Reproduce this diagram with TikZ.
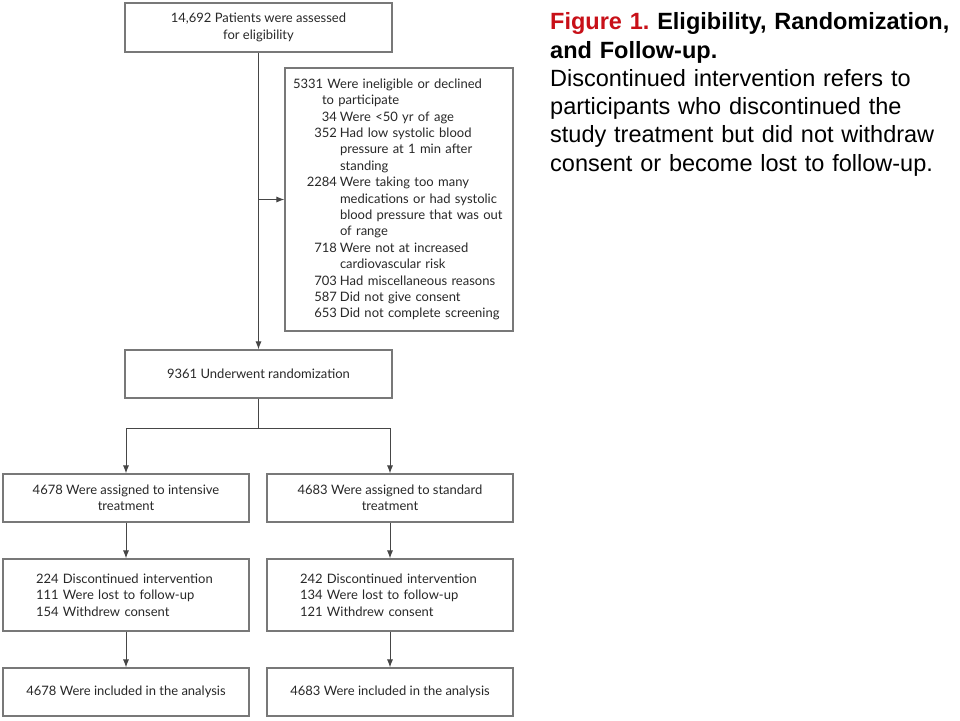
\documentclass[tikz,border=0pt]{standalone}
\usepackage{fontspec}
\setmainfont{Lato}
\newfontfamily\capfont{Liberation Sans}
\usetikzlibrary{arrows.meta}
\frenchspacing
\definecolor{boxgray}{RGB}{120,120,120}
\definecolor{linegray}{RGB}{70,70,70}
\definecolor{txtgray}{RGB}{40,40,40}
\definecolor{figred}{RGB}{200,16,24}
\newcommand{\boxfont}{\fontsize{13}{16.4}\selectfont}
\newcommand{\numr}[1]{\makebox[44pt][r]{#1}\hspace{3pt}}
\newcommand{\contr}{\hspace*{47pt}}
\begin{document}
\begin{tikzpicture}[x=1pt,y=-1pt,
  flowbox/.style={draw=boxgray, line width=1.1pt, inner sep=0pt, font=\boxfont, text=txtgray, align=center},
  listbox/.style={flowbox, align=left, inner xsep=33pt, text width=180pt},
  arr/.style={draw=linegray, line width=1pt, -{Latex[length=8pt,width=6pt]}},
  conn/.style={draw=linegray, line width=1pt}]
\useasboundingbox (0,0) rectangle (960,720);
\fill[white] (0,0) rectangle (960,720);

\node[flowbox, minimum width=267pt, minimum height=49pt] (top) at (258.5,27.5)
  {14,692 Patients were assessed\\for eligibility};
\node[flowbox, align=left, inner xsep=8pt, text width=212pt, minimum height=263pt] (excl) at (399,199.5)
  {5331 Were ineligible or declined\\
   \hspace*{29pt}to participate\\
   \numr{34}Were <50 yr of age\\
   \numr{352}Had low systolic blood\\
   \contr pressure at 1 min after\\
   \contr standing\\
   \numr{2284}Were taking too many\\
   \contr medications or had systolic\\
   \contr blood pressure that was out\\
   \contr of range\\
   \numr{718}Were not at increased\\
   \contr cardiovascular risk\\
   \numr{703}Had miscellaneous reasons\\
   \numr{587}Did not give consent\\
   \numr{653}Did not complete screening};
\node[flowbox, minimum width=267pt, minimum height=48pt] (rand) at (258.5,374)
  {9361 Underwent randomization};

\node[flowbox, minimum width=246pt, minimum height=48pt] (L1) at (126,498)
  {4678 Were assigned to intensive\\treatment};
\node[flowbox, minimum width=246pt, minimum height=48pt] (R1) at (390,498)
  {4683 Were assigned to standard\\treatment};
\node[listbox, minimum height=72pt] (L2) at (126,595)
  {224 Discontinued intervention\\111 Were lost to follow-up\\154 Withdrew consent};
\node[listbox, minimum height=72pt] (R2) at (390,595)
  {242 Discontinued intervention\\134 Were lost to follow-up\\121 Withdrew consent};
\node[flowbox, minimum width=246pt, minimum height=48pt] (L3) at (126,692)
  {4678 Were included in the analysis};
\node[flowbox, minimum width=246pt, minimum height=48pt] (R3) at (390,692)
  {4683 Were included in the analysis};

\coordinate (split) at (258.5,428);

\draw[arr] (top.south) -- (rand.north);
\draw[arr] (top.south |- excl.west) -- (excl.west);
\draw[conn] (rand.south) -- (split);
\draw[arr] (split) -| (L1.north);
\draw[arr] (split) -| (R1.north);
\draw[arr] (L1) -- (L2);
\draw[arr] (R1) -- (R2);
\draw[arr] (L2) -- (L3);
\draw[arr] (R2) -- (R3);

\node[anchor=north west, inner sep=0pt, align=left, text width=415pt,
      font=\capfont\fontsize{23.5}{28.3}\selectfont] (cap) at (550,12.5)
  {\textbf{\textcolor{figred}{Figure 1.} Eligibility, Randomization,}\\
   \textbf{and Follow-up.}\\
   Discontinued intervention refers to\\
   participants who discontinued the\\
   study treatment but did not withdraw\\
   consent or become lost to follow-up.};
\end{tikzpicture}
\end{document}
